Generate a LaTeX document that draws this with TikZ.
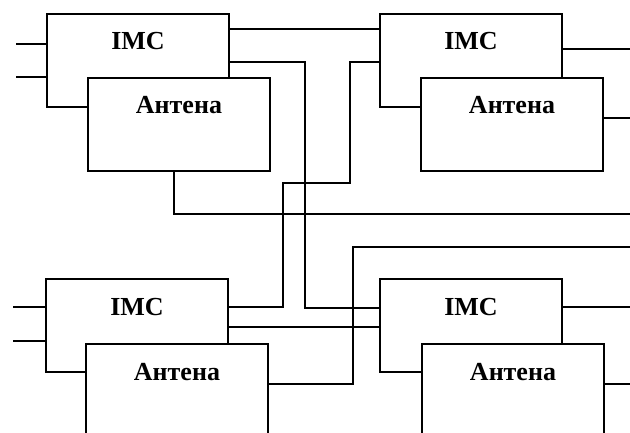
\documentclass[tikz,border=0pt]{standalone}
\usepackage{fontspec}
\setmainfont{Liberation Serif}
\begin{document}
\begin{tikzpicture}[x=1pt,y=-1pt,
  box/.style={draw,line width=2pt,fill=white,inner sep=0pt,minimum width=182pt,
    text height=36pt,text depth=57pt,anchor=north west,
    font=\fontsize{26}{30}\selectfont\bfseries},
  wire/.style={line width=1.3pt}]
\useasboundingbox (0,0) rectangle (630,433);
\clip (0,0) rectangle (630,433);
% boxes
\node[box] (imc1) at (46,13) {IMC};
\node[box] (ant1) at (87,77) {Антена};
\node[box] (imc2) at (379,13) {IMC};
\node[box] (ant2) at (420,77) {Антена};
\node[box] (imc3) at (45,278) {IMC};
\node[box] (ant3) at (85,343) {Антена};
\node[box] (imc4) at (379,278) {IMC};
\node[box] (ant4) at (421,343) {Антена};
% free ends
\coordinate (in1a) at (16,44);
\coordinate (in1b) at (16,77);
\coordinate (in3a) at (13,307);
\coordinate (in3b) at (13,341);
\coordinate (o2a) at (630,49);
\coordinate (o2b) at (630,118);
\coordinate (o1) at (630,214);
\coordinate (o3) at (630,247);
\coordinate (o4a) at (630,307);
\coordinate (o4b) at (630,384);
% inputs
\draw[wire] (in1a) -- (imc1.west |- in1a);
\draw[wire] (in1b) -- (imc1.west |- in1b);
\draw[wire] (in3a) -- (imc3.west |- in3a);
\draw[wire] (in3b) -- (imc3.west |- in3b);
% interconnections
\draw[wire] (imc1.east |- 0,29) -- (imc2.west |- 0,29);
\draw[wire] (imc1.east |- 0,62) -| (305,308) -- (imc4.west |- 0,308);
\draw[wire] (imc3.east |- 0,307) -| (283,183) -| (350,62) -- (imc2.west |- 0,62);
\draw[wire] (imc3.east |- 0,327) -- (imc4.west |- 0,327);
\draw[wire] (ant1.south -| 174,0) |- (o1);
\draw[wire] (ant3.east |- 0,384) -| (353,247) -- (o3);
% outputs
\draw[wire] (imc2.east |- o2a) -- (o2a);
\draw[wire] (ant2.east |- o2b) -- (o2b);
\draw[wire] (imc4.east |- o4a) -- (o4a);
\draw[wire] (ant4.east |- o4b) -- (o4b);
\end{tikzpicture}
\end{document}
